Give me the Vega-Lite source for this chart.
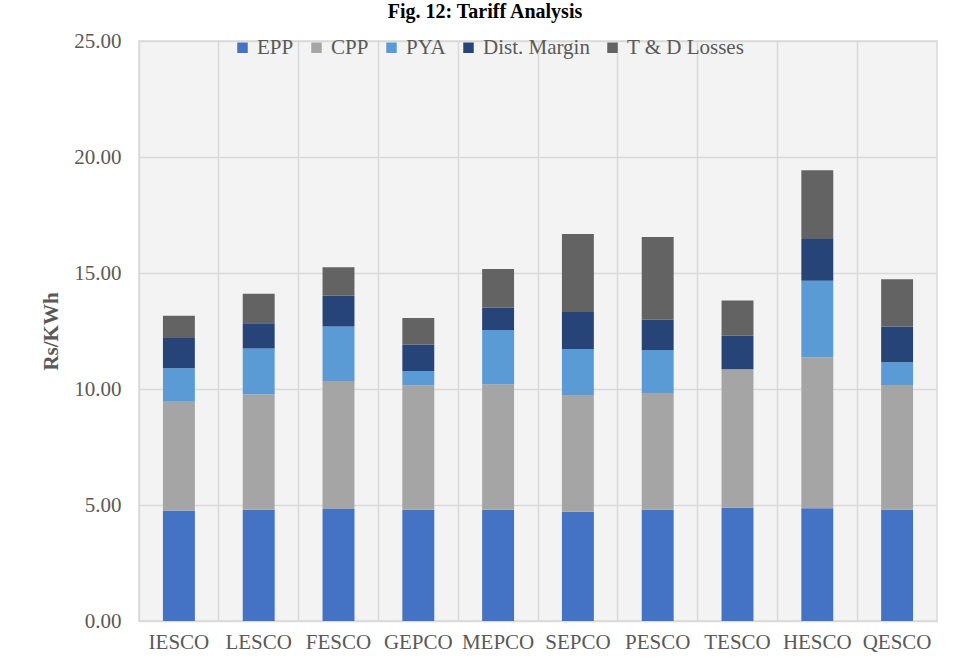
{
  "$schema": "https://vega.github.io/schema/vega-lite/v6.json",
  "width": 798,
  "height": 580,
  "autosize": "none",
  "padding": {"left": 139, "top": 41, "right": 20, "bottom": 49},
  "background": "white",
  "title": {
    "text": "Fig. 12:  Tariff Analysis",
    "font": "Liberation Serif",
    "fontSize": 20,
    "fontWeight": "bold",
    "color": "#000000",
    "anchor": "middle",
    "frame": "group",
    "offset": 8,
    "dx": -53
  },
  "datasets": {
    "legendOrder": [
      {"component": "EPP", "rank": 1},
      {"component": "CPP", "rank": 2},
      {"component": "PYA", "rank": 3},
      {"component": "Dist. Margin", "rank": 4},
      {"component": "T & D Losses", "rank": 5}
    ]
  },
  "data": {
    "values": [
      {"company": "IESCO", "component": "EPP", "value": 4.75},
      {"company": "IESCO", "component": "CPP", "value": 4.70},
      {"company": "IESCO", "component": "PYA", "value": 1.44},
      {"company": "IESCO", "component": "Dist. Margin", "value": 1.31},
      {"company": "IESCO", "component": "T & D Losses", "value": 0.96},
      {"company": "LESCO", "component": "EPP", "value": 4.80},
      {"company": "LESCO", "component": "CPP", "value": 4.97},
      {"company": "LESCO", "component": "PYA", "value": 1.98},
      {"company": "LESCO", "component": "Dist. Margin", "value": 1.08},
      {"company": "LESCO", "component": "T & D Losses", "value": 1.28},
      {"company": "FESCO", "component": "EPP", "value": 4.83},
      {"company": "FESCO", "component": "CPP", "value": 5.51},
      {"company": "FESCO", "component": "PYA", "value": 2.35},
      {"company": "FESCO", "component": "Dist. Margin", "value": 1.33},
      {"company": "FESCO", "component": "T & D Losses", "value": 1.23},
      {"company": "GEPCO", "component": "EPP", "value": 4.80},
      {"company": "GEPCO", "component": "CPP", "value": 5.36},
      {"company": "GEPCO", "component": "PYA", "value": 0.62},
      {"company": "GEPCO", "component": "Dist. Margin", "value": 1.13},
      {"company": "GEPCO", "component": "T & D Losses", "value": 1.15},
      {"company": "MEPCO", "component": "EPP", "value": 4.80},
      {"company": "MEPCO", "component": "CPP", "value": 5.41},
      {"company": "MEPCO", "component": "PYA", "value": 2.33},
      {"company": "MEPCO", "component": "Dist. Margin", "value": 0.96},
      {"company": "MEPCO", "component": "T & D Losses", "value": 1.67},
      {"company": "SEPCO", "component": "EPP", "value": 4.71},
      {"company": "SEPCO", "component": "CPP", "value": 5.03},
      {"company": "SEPCO", "component": "PYA", "value": 1.98},
      {"company": "SEPCO", "component": "Dist. Margin", "value": 1.60},
      {"company": "SEPCO", "component": "T & D Losses", "value": 3.36},
      {"company": "PESCO", "component": "EPP", "value": 4.80},
      {"company": "PESCO", "component": "CPP", "value": 5.03},
      {"company": "PESCO", "component": "PYA", "value": 1.84},
      {"company": "PESCO", "component": "Dist. Margin", "value": 1.32},
      {"company": "PESCO", "component": "T & D Losses", "value": 3.56},
      {"company": "TESCO", "component": "EPP", "value": 4.88},
      {"company": "TESCO", "component": "CPP", "value": 5.97},
      {"company": "TESCO", "component": "PYA", "value": 0.0},
      {"company": "TESCO", "component": "Dist. Margin", "value": 1.45},
      {"company": "TESCO", "component": "T & D Losses", "value": 1.52},
      {"company": "HESCO", "component": "EPP", "value": 4.86},
      {"company": "HESCO", "component": "CPP", "value": 6.51},
      {"company": "HESCO", "component": "PYA", "value": 3.30},
      {"company": "HESCO", "component": "Dist. Margin", "value": 1.80},
      {"company": "HESCO", "component": "T & D Losses", "value": 2.96},
      {"company": "QESCO", "component": "EPP", "value": 4.80},
      {"company": "QESCO", "component": "CPP", "value": 5.37},
      {"company": "QESCO", "component": "PYA", "value": 0.98},
      {"company": "QESCO", "component": "Dist. Margin", "value": 1.54},
      {"company": "QESCO", "component": "T & D Losses", "value": 2.04}
    ]
  },
  "transform": [
    {"lookup": "component", "from": {"data": {"name": "legendOrder"}, "key": "component", "fields": ["rank"]}}
  ],
  "mark": {"type": "bar", "width": {"band": 0.4}},
  "encoding": {
    "x": {
      "field": "company",
      "type": "nominal",
      "sort": null,
      "scale": {"paddingInner": 0, "paddingOuter": 0},
      "axis": {
        "title": null,
        "labelAngle": 0,
        "labelPadding": 10,
        "ticks": false,
        "domain": false,
        "grid": true,
        "bandPosition": 0,
        "gridColor": "#d9d9d9",
        "gridWidth": 1.5
      }
    },
    "y": {
      "field": "value",
      "type": "quantitative",
      "stack": "zero",
      "scale": {"domain": [0, 25], "nice": false},
      "axis": {
        "title": "Rs/KWh",
        "values": [0, 5, 10, 15, 20, 25],
        "format": ".2f",
        "ticks": false,
        "domain": false,
        "grid": true,
        "gridColor": "#d9d9d9",
        "gridWidth": 1.5,
        "labelPadding": 18,
        "titlePadding": 12,
        "titleFontWeight": "bold"
      }
    },
    "order": {"field": "rank", "type": "quantitative", "sort": "ascending"},
    "color": {
      "field": "component",
      "type": "nominal",
      "scale": {
        "domain": ["EPP", "CPP", "PYA", "Dist. Margin", "T & D Losses"],
        "range": ["#4472C4", "#A5A5A5", "#5B9BD5", "#264478", "#636363"]
      },
      "legend": {
        "title": null,
        "orient": "none",
        "direction": "horizontal",
        "legendX": 93,
        "legendY": -4,
        "padding": 0,
        "symbolType": "square",
        "symbolSize": 110,
        "symbolStrokeWidth": 0,
        "symbolOpacity": 1,
        "labelOffset": 4,
        "columnPadding": 12,
        "labelFont": "Liberation Serif",
        "labelFontSize": 21,
        "labelColor": "#595959"
      }
    }
  },
  "config": {
    "view": {"fill": "#f3f3f3", "stroke": "#d9d9d9", "strokeWidth": 1.5},
    "axis": {
      "labelFont": "Liberation Serif",
      "labelFontSize": 21,
      "labelColor": "#595959",
      "titleFont": "Liberation Serif",
      "titleFontSize": 21,
      "titleColor": "#595959"
    }
  }
}
